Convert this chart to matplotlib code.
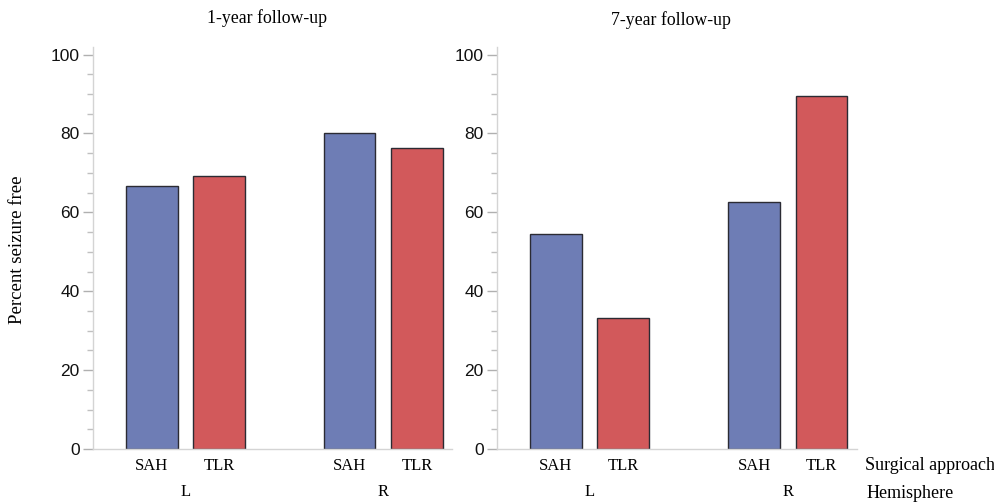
import matplotlib.pyplot as plt
import numpy as np

# percent seizure free, by hemisphere (L, R) and surgical approach (SAH, TLR)
approaches = ['SAH', 'TLR']
hemispheres = ['L', 'R']
year1_sah = [66.7, 80.0]
year1_tlr = [69.2, 76.2]
year7_sah = [54.5, 62.5]
year7_tlr = [33.3, 89.5]

panel_titles = ['1-year follow-up', '7-year follow-up']

blue = '#6e7db5'
red = '#d2595b'
serif = 'Liberation Serif'

fig = plt.figure(figsize=(9.95, 5.04), dpi=100)
ax_left = fig.add_axes([0.0935, 0.1091, 0.3608, 0.7983])
ax_right = fig.add_axes([0.4995, 0.1091, 0.3615, 0.7983])

group_gap = 2.94
width = 0.767


def title_x(ax):
    box = ax.get_position()
    return box.x0 + box.width * 0.485


def draw_panel(ax, sah, tlr, title, title_y):
    pos = np.arange(len(hemispheres)) * group_gap
    ax.bar(pos, sah, width=width, color=blue, edgecolor='#2b2b33', linewidth=1.0)
    ax.bar(pos + 1, tlr, width=width, color=red, edgecolor='#2b2b33', linewidth=1.0)

    ax.set_xlim(-0.872, pos[-1] + 1 + 0.522)
    ax.set_ylim(0, 102)
    ax.set_yticks([0, 20, 40, 60, 80, 100])
    ax.set_yticks(np.arange(0, 101, 5), minor=True)
    ax.set_xticks([])

    for side in ['top', 'right']:
        ax.spines[side].set_visible(False)
    for side in ['left', 'bottom']:
        ax.spines[side].set_color('#d4d4d4')
        ax.spines[side].set_linewidth(1.0)
    ax.tick_params(axis='y', which='major', length=7.5, width=1, color='#b0b0b0',
                   labelsize=12.5, labelcolor='#111111', pad=2)
    ax.tick_params(axis='y', which='minor', length=4, width=1, color='#c0c0c0')
    for lab in ax.get_yticklabels():
        lab.set_family('Liberation Sans')

    # category labels under each bar, hemisphere under each pair
    for i, h in enumerate(hemispheres):
        for j, a in enumerate(approaches):
            ax.text(pos[i] + j, -4.3, a, ha='center', va='center',
                    family=serif, fontsize=12, clip_on=False)
        ax.text(pos[i] + 0.5, -11.0, h, ha='center', va='center',
                family=serif, fontsize=12, clip_on=False)

    fig.text(title_x(ax), title_y, title, ha='center', va='center',
             family=serif, fontsize=12.8)


draw_panel(ax_left, year1_sah, year1_tlr, panel_titles[0], 1 - 18 / 504)
draw_panel(ax_right, year7_sah, year7_tlr, panel_titles[1], 1 - 20 / 504)

fig.text(18 / 995, 1 - 250 / 504, 'Percent seizure free', rotation=90, ha='center',
         va='center', family=serif, fontsize=13.5)
fig.text(865 / 995, 1 - 466 / 504, 'Surgical approach', ha='left', va='center',
         family=serif, fontsize=13)
fig.text(867 / 995, 1 - 493 / 504, 'Hemisphere', ha='left', va='center',
         family=serif, fontsize=13)

fig.savefig('out.png', dpi=100)
